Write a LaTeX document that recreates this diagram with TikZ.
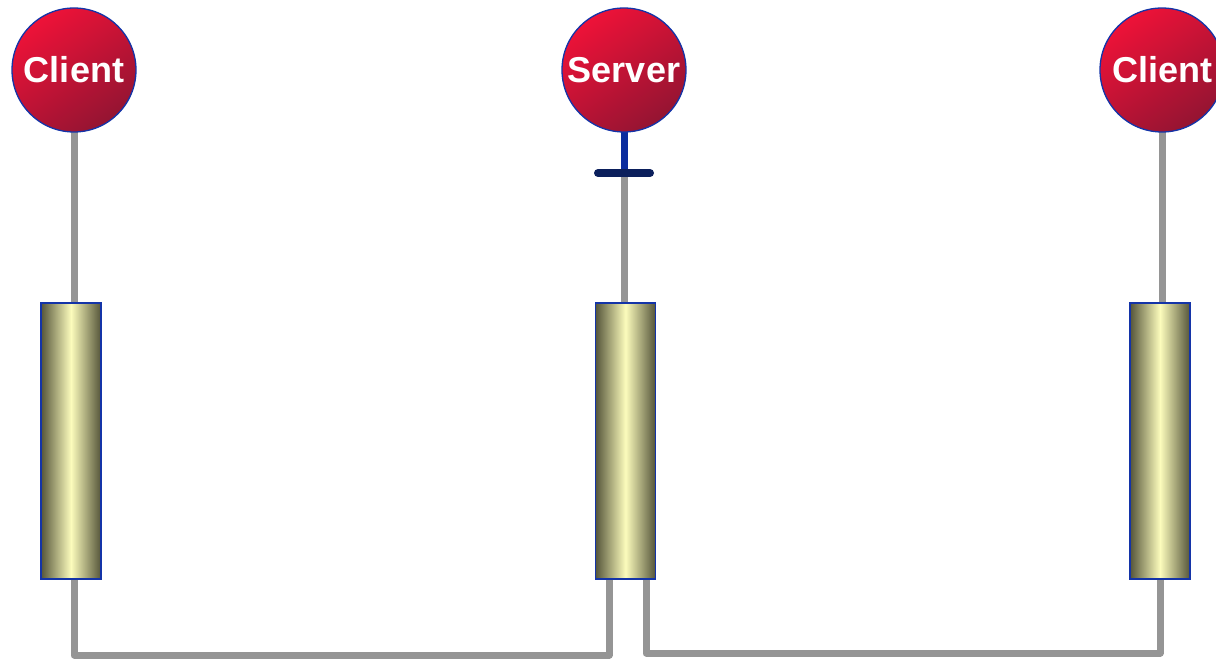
\documentclass[tikz,border=0pt]{standalone}
\usepackage{fontspec}
\usepackage{tikz}
\usetikzlibrary{positioning,calc,backgrounds}
\newfontfamily\labelfont{Liberation Sans}
\definecolor{cRedA}{HTML}{EE1238}
\definecolor{cRedB}{HTML}{941432}
\definecolor{cEdge}{HTML}{1434A8}
\definecolor{cStem}{HTML}{0A2C9E}
\definecolor{cBar}{HTML}{0B1F5C}
\definecolor{cWire}{HTML}{959595}
\definecolor{cCylDark}{HTML}{55553A}
\definecolor{cCylLight}{HTML}{FCFCBC}
\tikzset{
  role/.style={circle,draw=cEdge,line width=1.3pt,minimum size=124,inner sep=0pt,
    top color=cRedA,bottom color=cRedB,shading angle=35,
    text=white,font=\labelfont\bfseries\fontsize{36}{40}\selectfont},
  store/.style={rectangle,draw=cEdge,line width=1.6pt,minimum width=60,minimum height=276,inner sep=0pt,
    left color=cCylDark,right color=cCylDark,middle color=cCylLight},
  wire/.style={line width=7pt,color=cWire,line cap=round,line join=round},
  stem/.style={line width=7pt,color=cStem},
  bar/.style={line width=8pt,color=cBar,line cap=round},
}
\begin{document}
\begin{tikzpicture}[x=1pt,y=-1pt]
  \useasboundingbox (0,0) rectangle (1216,660);
  % top row
  \node[role] (client1) at (74,70) {Client};
  \node[role] (server) at (624,70) {Server};
  \node[role] (client2) at (1162,70) {Client};
  % stores
  \node[store] (store1) at (71,441) {};
  \node[store] (store2) at (625.5,441) {};
  \node[store] (store3) at (1160,441) {};
  \coordinate (tee) at (624,173);
  \coordinate (busL) at (609,655);
  \coordinate (busR) at (646,653);
  \begin{scope}[on background layer]
    \draw[wire] ([yshift=6pt]client1.south) -- (client1.south |- store1.north);
    \draw[wire] ([yshift=6pt]client2.south) -- (client2.south |- store3.north);
    \draw[stem] ([yshift=6pt]server.south) -- (tee);
    \draw[wire,line cap=butt] (tee) -- (server.south |- store2.north);
    \draw[wire] (client1.south |- store1.south) |- (busL) -- (busL |- store2.south);
    \draw[wire] (busR |- store2.south) -- (busR) -| (store3.south);
  \end{scope}
  \draw[bar] ([xshift=-26pt]tee) -- ([xshift=26pt]tee);
\end{tikzpicture}
\end{document}
